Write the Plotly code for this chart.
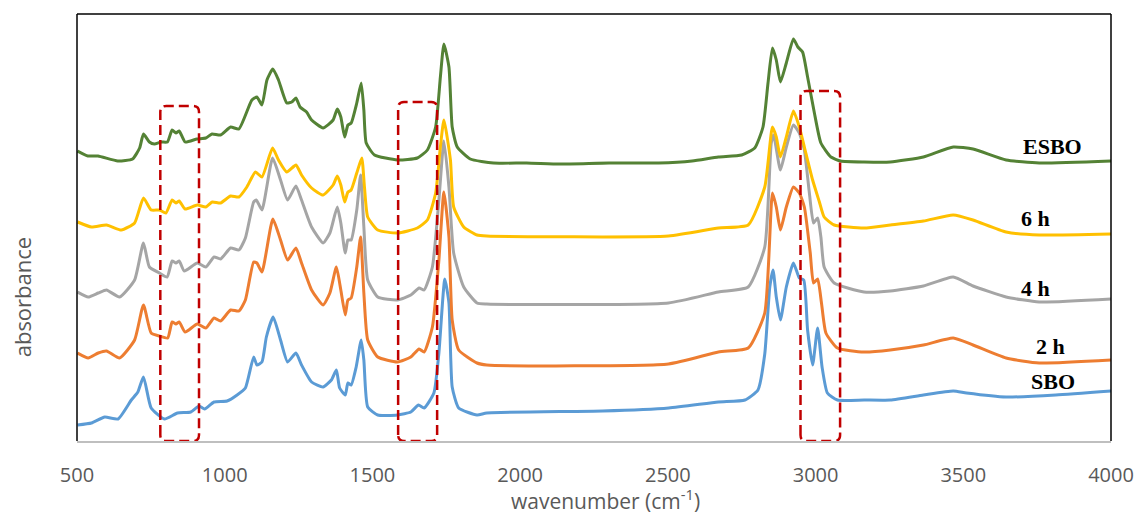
import plotly.graph_objects as go

# FTIR spectra (offset, arbitrary absorbance units) for soybean oil epoxidation
wn_esbo = [502, 537, 571, 638, 688, 712, 725, 745, 762, 785, 806, 822, 835, 846, 866, 906, 936, 957, 986,
           1020, 1048, 1092, 1109, 1126, 1143, 1163, 1182, 1210, 1227, 1241, 1255, 1277, 1294, 1333, 1367,
           1381, 1393, 1406, 1417, 1428, 1447, 1462, 1471, 1479, 1507, 1585, 1652, 1686, 1714, 1730, 1742,
           1759, 1770, 1787, 1831, 1910, 2022, 2134, 2301, 2469, 2582, 2671, 2750, 2794, 2822, 2839, 2854,
           2867, 2881, 2901, 2925, 2940, 2956, 2973, 2996, 3018, 3052, 3085, 3164, 3253, 3365, 3466, 3533,
           3645, 3757, 4000]
abs_esbo = [2.90, 2.85, 2.85, 2.80, 2.82, 2.93, 3.07, 2.99, 2.97, 2.99, 2.99, 3.11, 3.08, 3.10, 2.99, 3.02,
            3.03, 3.07, 3.06, 3.14, 3.12, 3.41, 3.44, 3.36, 3.61, 3.72, 3.61, 3.38, 3.39, 3.43, 3.34, 3.29,
            3.21, 3.13, 3.21, 3.32, 3.24, 3.04, 3.16, 3.18, 3.38, 3.58, 3.31, 2.98, 2.86, 2.81, 2.83, 2.91,
            3.14, 3.64, 3.97, 3.74, 3.14, 2.94, 2.82, 2.78, 2.78, 2.77, 2.78, 2.78, 2.80, 2.84, 2.86, 2.93,
            3.14, 3.58, 3.93, 3.81, 3.59, 3.78, 4.02, 3.94, 3.89, 3.64, 3.28, 2.98, 2.84, 2.80, 2.79, 2.79,
            2.84, 2.94, 2.92, 2.81, 2.78, 2.80]

wn_6h = [502, 549, 600, 650, 695, 725, 751, 779, 801, 822, 835, 846, 866, 907, 936, 958, 986, 1020, 1048,
         1075, 1104, 1126, 1162, 1182, 1210, 1241, 1260, 1294, 1333, 1367, 1381, 1393, 1406, 1417, 1428,
         1447, 1464, 1473, 1484, 1518, 1585, 1652, 1686, 1714, 1730, 1742, 1764, 1775, 1809, 1854, 1887,
         2502, 2671, 2772, 2828, 2854, 2867, 2881, 2901, 2925, 2945, 2962, 2990, 3013, 3029, 3063, 3164,
         3253, 3365, 3466, 3533, 3645, 3757, 4000]
abs_6h = [2.19, 2.14, 2.16, 2.11, 2.18, 2.43, 2.31, 2.31, 2.28, 2.41, 2.38, 2.40, 2.32, 2.36, 2.34, 2.39,
          2.38, 2.45, 2.44, 2.54, 2.69, 2.64, 2.93, 2.81, 2.69, 2.76, 2.66, 2.53, 2.46, 2.56, 2.65, 2.56,
          2.39, 2.49, 2.51, 2.68, 2.83, 2.54, 2.24, 2.11, 2.08, 2.13, 2.21, 2.48, 2.94, 3.21, 2.81, 2.34,
          2.14, 2.06, 2.05, 2.05, 2.13, 2.16, 2.54, 3.14, 3.04, 2.84, 3.04, 3.30, 3.14, 2.94, 2.61, 2.39,
          2.24, 2.16, 2.13, 2.16, 2.20, 2.26, 2.21, 2.09, 2.06, 2.07]

wn_4h = [502, 538, 572, 600, 644, 695, 725, 745, 779, 805, 822, 835, 846, 863, 907, 936, 964, 986, 1020,
         1048, 1070, 1098, 1107, 1126, 1162, 1189, 1213, 1241, 1260, 1294, 1333, 1356, 1381, 1393, 1408,
         1417, 1428, 1447, 1460, 1471, 1484, 1518, 1585, 1630, 1658, 1675, 1703, 1725, 1742, 1759, 1775,
         1809, 1854, 1887, 2502, 2671, 2772, 2828, 2850, 2858, 2881, 2901, 2925, 2945, 2962, 2979, 2993,
         3007, 3018, 3029, 3063, 3164, 3253, 3365, 3466, 3533, 3645, 3757, 4000]
abs_4h = [1.49, 1.44, 1.48, 1.51, 1.44, 1.61, 1.98, 1.74, 1.68, 1.64, 1.80, 1.78, 1.80, 1.70, 1.78, 1.74,
          1.84, 1.82, 1.93, 1.91, 2.03, 2.39, 2.41, 2.31, 2.83, 2.61, 2.41, 2.55, 2.41, 2.14, 1.98, 2.08,
          2.34, 2.18, 1.88, 2.01, 2.01, 2.31, 2.66, 2.14, 1.61, 1.44, 1.41, 1.46, 1.53, 1.51, 1.74, 2.41,
          3.00, 2.54, 1.88, 1.54, 1.38, 1.37, 1.38, 1.49, 1.54, 1.94, 2.98, 3.06, 2.71, 2.94, 3.16, 3.08,
          2.91, 2.48, 2.18, 2.23, 2.04, 1.74, 1.58, 1.49, 1.50, 1.55, 1.64, 1.55, 1.44, 1.39, 1.42]

wn_2h = [502, 538, 572, 600, 644, 695, 725, 751, 779, 807, 822, 835, 846, 866, 907, 936, 964, 986, 1020,
         1048, 1070, 1098, 1109, 1126, 1163, 1189, 1213, 1241, 1260, 1294, 1333, 1356, 1378, 1393, 1408,
         1417, 1428, 1447, 1460, 1471, 1484, 1518, 1585, 1630, 1658, 1675, 1703, 1725, 1742, 1759, 1770,
         1792, 1854, 1887, 2502, 2671, 2772, 2828, 2854, 2867, 2881, 2901, 2925, 2945, 2962, 2982, 2993,
         3007, 3020, 3035, 3074, 3164, 3253, 3365, 3466, 3533, 3645, 3757, 4000]
abs_2h = [0.88, 0.83, 0.88, 0.90, 0.83, 1.01, 1.36, 1.08, 1.05, 1.03, 1.19, 1.17, 1.19, 1.09, 1.17, 1.13,
          1.23, 1.20, 1.31, 1.30, 1.41, 1.79, 1.78, 1.69, 2.22, 2.01, 1.81, 1.93, 1.78, 1.51, 1.36, 1.48,
          1.74, 1.51, 1.26, 1.41, 1.43, 1.74, 2.04, 1.48, 1.01, 0.84, 0.79, 0.84, 0.92, 0.89, 1.14, 1.81,
          2.49, 2.04, 1.21, 0.91, 0.78, 0.76, 0.77, 0.89, 0.93, 1.28, 2.48, 2.34, 2.11, 2.34, 2.54, 2.48,
          2.34, 1.88, 1.58, 1.62, 1.38, 1.08, 0.93, 0.89, 0.91, 0.96, 1.03, 0.96, 0.83, 0.78, 0.81]

wn_sbo = [502, 549, 594, 639, 684, 706, 725, 751, 796, 840, 885, 913, 932, 964, 1008, 1042, 1070, 1098,
          1109, 1126, 1141, 1164, 1189, 1213, 1241, 1260, 1294, 1333, 1361, 1378, 1389, 1408, 1417, 1428,
          1445, 1462, 1471, 1484, 1518, 1585, 1630, 1656, 1675, 1708, 1725, 1745, 1759, 1770, 1792, 1854,
          1887, 2279, 2503, 2671, 2761, 2805, 2828, 2845, 2856, 2867, 2881, 2901, 2925, 2945, 2960, 2973,
          2990, 3007, 3022, 3040, 3074, 3164, 3253, 3365, 3466, 3511, 3645, 3813, 4000]
abs_sbo = [0.16, 0.18, 0.24, 0.22, 0.41, 0.49, 0.64, 0.33, 0.22, 0.28, 0.29, 0.35, 0.32, 0.39, 0.40, 0.46,
           0.53, 0.84, 0.76, 0.79, 1.04, 1.24, 1.01, 0.79, 0.88, 0.76, 0.59, 0.54, 0.61, 0.71, 0.53, 0.46,
           0.58, 0.56, 0.74, 1.01, 0.81, 0.34, 0.26, 0.26, 0.29, 0.36, 0.33, 0.48, 0.88, 1.62, 1.38, 0.54,
           0.33, 0.26, 0.28, 0.30, 0.33, 0.39, 0.41, 0.51, 0.87, 1.54, 1.71, 1.44, 1.21, 1.54, 1.78, 1.63,
           1.61, 1.11, 0.76, 1.13, 0.74, 0.48, 0.41, 0.41, 0.41, 0.46, 0.50, 0.48, 0.44, 0.46, 0.50]

series_names = ["SBO", "2 h", "4 h", "6 h", "ESBO"]
series_colors = ["#5B9BD5", "#ED7D31", "#A5A5A5", "#FFC000", "#548235"]
series_x = [wn_sbo, wn_2h, wn_4h, wn_6h, wn_esbo]
series_y = [abs_sbo, abs_2h, abs_4h, abs_6h, abs_esbo]

# curve labels placed at the right-hand end of each spectrum
label_x = [3805, 3796, 3746, 3746, 3802]
label_y = [0.60, 0.95, 1.53, 2.23, 2.95]

# highlighted bands (wavenumber ranges) marked with dashed boxes
band_lo = [782, 1587, 2949]
band_hi = [913, 1719, 3083]
band_top = [3.35, 3.39, 3.50]

x_ticks = [500, 1000, 1500, 2000, 2500, 3000, 3500, 4000]

fig = go.Figure()
for name, color, xs, ys in zip(series_names, series_colors, series_x, series_y):
    fig.add_trace(go.Scatter(
        x=xs, y=ys, mode="lines", name=name,
        line=dict(color=color, width=3, shape="spline", smoothing=0.5),
        showlegend=False,
    ))

for name, lx, ly in zip(series_names, label_x, label_y):
    fig.add_annotation(
        x=lx, y=ly, xref="x", yref="y", text="<b>" + name + "</b>", showarrow=False,
        font=dict(family="Liberation Serif", size=22, color="#000000"),
    )


def rounded_box(x0, x1, y0, y1, rx=20, ry=0.06):
    return (f"M {x0},{y0 + ry} L {x0},{y1 - ry} Q {x0},{y1} {x0 + rx},{y1} "
            f"L {x1 - rx},{y1} Q {x1},{y1} {x1},{y1 - ry} "
            f"L {x1},{y0 + ry} Q {x1},{y0} {x1 - rx},{y0} "
            f"L {x0 + rx},{y0} Q {x0},{y0} {x0},{y0 + ry} Z")


for lo, hi, top in zip(band_lo, band_hi, band_top):
    fig.add_shape(
        type="path", xref="x", yref="y", path=rounded_box(lo, hi, 0.0, top),
        line=dict(color="#C00000", width=2.5, dash="10px,5px"),
    )

# frame: black left/top/right edges, bottom axis drawn as grey axis line
for x0, y0, x1, y1 in [(0, 0, 0, 1), (0, 1, 1, 1), (1, 0, 1, 1)]:
    fig.add_shape(type="line", xref="paper", yref="paper", x0=x0, y0=y0, x1=x1, y1=y1,
                  line=dict(color="#000000", width=1.5))

fig.add_annotation(
    x=-0.053, y=0.337, xref="paper", yref="paper", text="absorbance", textangle=-90,
    xanchor="center", yanchor="middle",
    showarrow=False, font=dict(family="Open Sans", size=22, color="#595959"),
)
fig.add_annotation(
    x=0.5115, y=-0.138, xref="paper", yref="paper", text="wavenumber (cm<sup>-1</sup>)",
    xanchor="center", yanchor="middle",
    showarrow=False, font=dict(family="Open Sans", size=21, color="#595959"),
)

fig.update_layout(
    width=1146, height=515,
    margin=dict(l=77, r=27, t=14, b=74),
    paper_bgcolor="white", plot_bgcolor="white",
    xaxis=dict(
        range=[500, 4000], tickvals=x_ticks, ticktext=[str(t) for t in x_ticks],
        showgrid=False, zeroline=False, showline=True, linecolor="#BFBFBF", linewidth=2,
        ticks="outside", ticklen=15, tickcolor="rgba(0,0,0,0)",
        tickfont=dict(family="Open Sans", size=20, color="#595959"),
    ),
    yaxis=dict(
        range=[0, 4.27], showgrid=False, zeroline=False, showline=False,
        showticklabels=False, ticks="",
    ),
)

fig.write_html("out.html")
